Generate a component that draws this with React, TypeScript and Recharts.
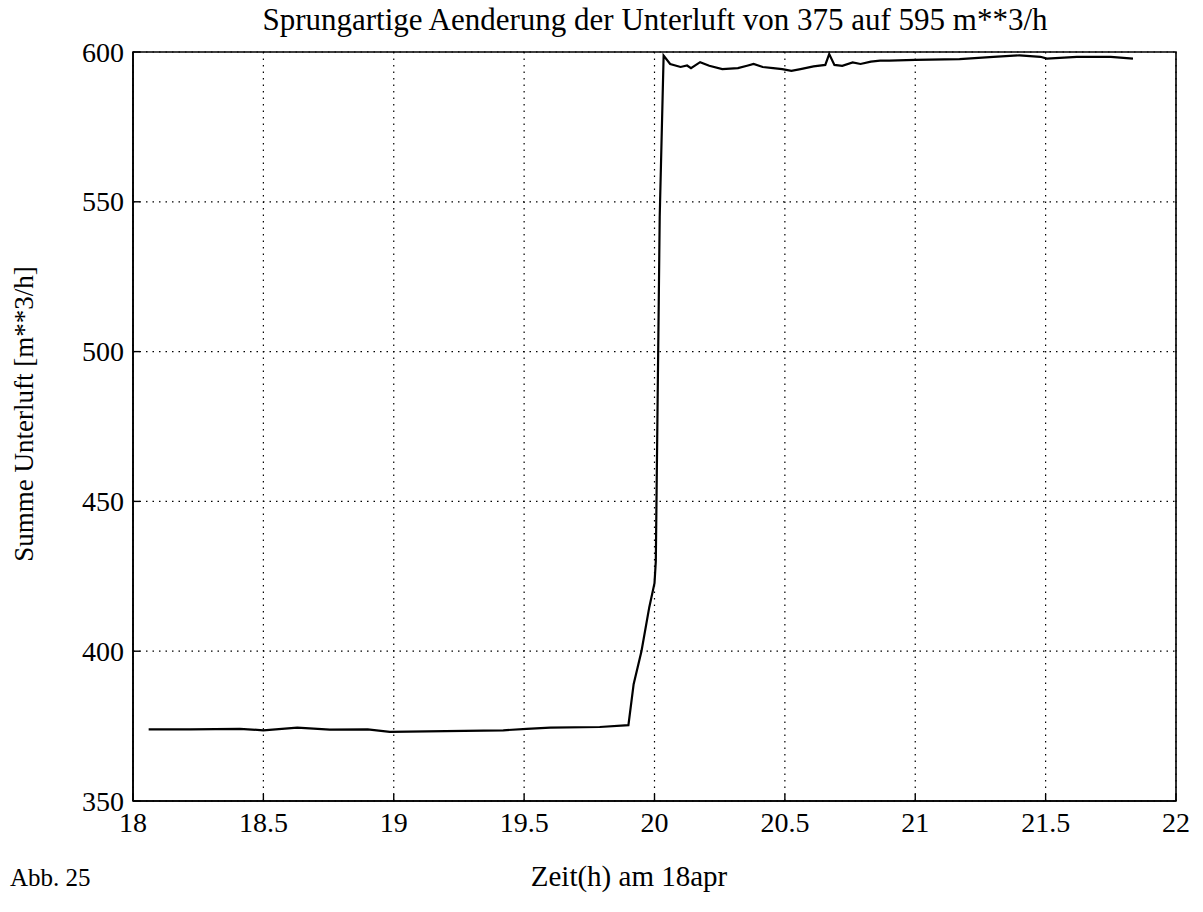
import React from "react";
import { LineChart, Line, XAxis, YAxis, CartesianGrid, ReferenceArea } from "recharts";

// Zeit in Stunden (18. April)
const zeit = [
  18.06, 18.22, 18.41, 18.5, 18.63, 18.755, 18.9, 18.985, 19.27, 19.42, 19.51,
  19.6, 19.79, 19.9, 19.92, 19.95, 19.98, 20.0, 20.005, 20.02, 20.035,
  20.06, 20.1, 20.125, 20.14, 20.175, 20.21, 20.26, 20.32, 20.355, 20.38,
  20.415, 20.455, 20.49, 20.525, 20.56, 20.61, 20.655, 20.67, 20.69, 20.72,
  20.76, 20.79, 20.83, 20.865, 20.9, 21.0, 21.17, 21.3, 21.4, 21.48,
  21.505, 21.62, 21.75, 21.835,
];

// Summe Unterluft in m**3/h
const unterluft = [
  373.9, 373.9, 374.1, 373.6, 374.5, 373.8, 373.9, 373.1, 373.4, 373.6, 374.1,
  374.5, 374.7, 375.3, 389.0, 400.0, 414.7, 422.7, 430.0, 545.0, 598.8,
  596.0, 595.0, 595.5, 594.6, 596.6, 595.4, 594.3, 594.6, 595.4, 596.0,
  595.0, 594.6, 594.3, 593.7, 594.3, 595.2, 595.7, 599.3, 595.7, 595.4,
  596.5, 596.0, 596.8, 597.1, 597.1, 597.4, 597.6, 598.4, 598.9, 598.4,
  597.8, 598.4, 598.4, 597.8,
];

const xTicks = [18, 18.5, 19, 19.5, 20, 20.5, 21, 21.5, 22];
const yTicks = [350, 400, 450, 500, 550, 600];

const titel = "Sprungartige Aenderung der Unterluft von 375 auf 595 m**3/h";
const xLabel = "Zeit(h) am 18apr";
const yLabel = "Summe Unterluft [m**3/h]";
const abbildung = "Abb. 25";

const data = zeit.map((t, i) => ({ t, v: unterluft[i] }));

const FONT = "Liberation Serif, serif";

const W = 1203;
const H = 912;
const PLOT_LEFT = 133;
const PLOT_RIGHT = 1176;
const PLOT_TOP = 52;
const PLOT_BOTTOM = 801;
const TICK_LEN = 7;
const AXIS = { stroke: "#000", strokeWidth: 1.6 };

const XTick = (props: any) => {
  const { x, payload } = props;
  return (
    <text x={x} y={PLOT_BOTTOM + 11} textAnchor="middle" dominantBaseline="hanging" fontFamily={FONT} fontSize={28} fill="#000">
      {String(payload.value)}
    </text>
  );
};

const YTick = (props: any) => {
  const { y, payload } = props;
  return (
    <text x={PLOT_LEFT - 9} y={y} textAnchor="end" dominantBaseline="central" fontFamily={FONT} fontSize={28} fill="#000">
      {String(payload.value)}
    </text>
  );
};

export default function App() {
  return (
    <div style={{ position: "absolute", left: 0, top: 0, width: W, height: H, background: "#fff", fontFamily: FONT }}>
      <LineChart
        width={W}
        height={H}
        data={data}
        margin={{ top: PLOT_TOP, right: W - PLOT_RIGHT, bottom: 0, left: 0 }}
      >
        <CartesianGrid stroke="#000" strokeDasharray="1.5 5" strokeWidth={1.2} horizontalValues={yTicks} verticalValues={xTicks} />
        <XAxis
          dataKey="t"
          type="number"
          domain={[18, 22]}
          ticks={xTicks}
          allowDataOverflow
          height={H - PLOT_BOTTOM}
          axisLine={AXIS}
          tickLine={{ stroke: "#000", strokeWidth: 1.4 }}
          tickSize={-TICK_LEN}
          tick={<XTick />}
          interval={0}
        />
        <XAxis
          xAxisId="oben"
          orientation="top"
          dataKey="t"
          type="number"
          domain={[18, 22]}
          ticks={xTicks}
          allowDataOverflow
          height={0}
          axisLine={false}
          tickLine={{ stroke: "#000", strokeWidth: 1.4 }}
          tickSize={-TICK_LEN}
          tick={false}
          interval={0}
        />
        <YAxis
          dataKey="v"
          type="number"
          domain={[350, 600]}
          ticks={yTicks}
          allowDataOverflow
          width={PLOT_LEFT}
          axisLine={AXIS}
          tickLine={{ stroke: "#000", strokeWidth: 1.4 }}
          tickSize={-TICK_LEN}
          tick={<YTick />}
          interval={0}
        />
        <YAxis
          yAxisId="rechts"
          orientation="right"
          dataKey="v"
          type="number"
          domain={[350, 600]}
          ticks={yTicks}
          allowDataOverflow
          width={0}
          axisLine={false}
          tickLine={{ stroke: "#000", strokeWidth: 1.4 }}
          tickSize={-TICK_LEN}
          tick={false}
          interval={0}
        />
        <ReferenceArea x1={18} x2={22} y1={350} y2={600} fill="none" stroke="#000" strokeWidth={1.6} ifOverflow="visible" />
        <Line
          dataKey="v"
          type="linear"
          stroke="#000"
          strokeWidth={2.2}
          dot={false}
          isAnimationActive={false}
        />
      </LineChart>
      <div style={{ position: "absolute", left: 0, width: 1310, top: 4, textAlign: "center", fontSize: 31, lineHeight: "32px", whiteSpace: "nowrap" }}>
        {titel}
      </div>
      <div style={{ position: "absolute", left: 329, width: 600, top: 860, textAlign: "center", fontSize: 29, lineHeight: "32px", whiteSpace: "nowrap" }}>
        {xLabel}
      </div>
      <div style={{ position: "absolute", left: 10, top: 863, fontSize: 25, lineHeight: "30px", whiteSpace: "nowrap" }}>
        {abbildung}
      </div>
      <div
        style={{
          position: "absolute",
          left: 24,
          top: 414,
          transform: "translate(-50%, -50%) rotate(-90deg)",
          fontSize: 27,
          lineHeight: "30px",
          whiteSpace: "nowrap",
        }}
      >
        {yLabel}
      </div>
    </div>
  );
}
